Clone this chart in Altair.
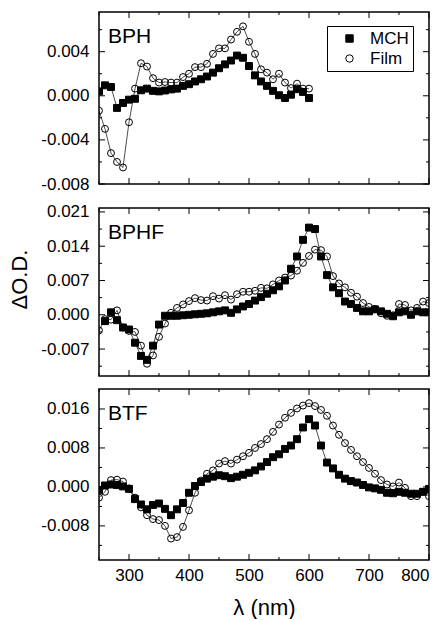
import altair as alt
import pandas as pd

FONT = "Liberation Sans"
W = 330

# ---- data (values in units of 1e-3 ΔO.D.) ----
wl_bph = list(range(250, 610, 10))
bph_mch = [0.4, 0.95, 0.8, -1.1, -0.65, -0.35, -0.27, 0.5, 0.65, 0.45, 0.4, 0.48, 0.58, 0.65,
           0.9, 1.05, 1.3, 1.5, 1.75, 2.1, 2.5, 2.85, 3.2, 3.65, 3.45, 2.7, 1.85, 1.3, 0.9, 0.45,
           0.05, -0.2, 0.1, 0.6, 0.35, -0.2]
bph_film = [-1.35, -3.0, -5.2, -6.0, -6.5, -2.4, 0.65, 2.95, 2.65, 1.6, 1.2, 1.25, 1.2, 1.2,
            1.7, 2.0, 2.6, 2.6, 2.9, 3.8, 4.3, 4.3, 5.1, 5.8, 6.3, 4.9, 3.8, 2.4, 2.1, 1.5,
            2.0, 1.2, 0.7, 1.1, 0.65, 0.65]

wl_full = list(range(250, 810, 10))
wl_bphf_mch = list(range(260, 810, 10))
bphf_mch = [-1.3, 0.5, -1.1, -2.6, -3.0, -5.7, -8.4, -9.2, -6.3, -2.0,
            -0.2, -0.2, -0.2, -0.1, 0.0, 0.1, 0.2, 0.3, 0.5, 0.7,
            0.9, 0.4, 1.1, 1.7, 2.2, 2.9, 3.6, 4.3, 5.0, 5.8,
            7.0, 9.4, 11.9, 15.3, 17.8, 17.5, 11.9, 8.1, 5.6, 4.4,
            2.7, 2.2, 1.4, 0.7, 0.7, 1.1, 0.7, 0.2, -0.3, 0.5,
            0.7, 0.0, 0.7, 0.5, 0.5]
bphf_film = [-3.2, -0.9, -1.0, 0.9, -2.6, -3.3, -3.5, -6.3, -10.0, -8.3,
             -4.5, -1.8, 0.4, 1.4, 2.1, 2.8, 3.4, 3.0, 2.9, 3.8,
             3.3, 4.0, 3.1, 4.2, 4.7, 4.7, 4.9, 5.5, 5.4, 6.2,
             7.0, 7.6, 8.0, 9.0, 10.6, 12.0, 13.3, 13.2, 11.9, 7.9,
             6.4, 5.6, 4.5, 3.7, 2.4, 1.6, 1.2, 0.3, -0.2, -0.1,
             2.2, 2.0, 0.9, 1.4, 2.7, 2.4]

btf_mch = [-0.6, 0.3, 0.5, 0.4, 0.1, -0.4, -2.5, -3.6, -4.6, -3.7,
           -3.4, -4.5, -5.8, -4.6, -3.3, -1.2, 0.2, 1.0, 1.7, 2.1,
           2.4, 2.2, 1.8, 2.1, 2.5, 2.9, 3.4, 4.2, 5.1, 6.1,
           6.7, 7.8, 8.5, 9.8, 12.2, 13.9, 12.6, 8.5, 5.0, 3.8,
           2.5, 1.7, 1.2, 0.9, 0.4, -0.1, -0.3, -0.6, -1.2, -1.3,
           -1.0, -1.2, -1.4, -1.4, -1.0, -0.4]
btf_film = [-2.2, -1.0, 1.4, 1.5, 1.1, -0.3, -2.2, -4.2, -5.8, -6.6,
            -6.8, -8.0, -10.6, -10.3, -8.2, -4.8, -1.2, 1.3, 2.7, 3.4,
            4.8, 5.3, 4.8, 5.6, 6.3, 7.0, 8.0, 8.8, 9.8, 11.3,
            12.8, 14.2, 15.2, 16.1, 16.7, 17.2, 16.6, 15.8, 14.6, 12.6,
            10.7, 9.0, 7.6, 6.3, 5.1, 3.9, 2.7, 1.4, 0.5, 0.1,
            0.9, -0.2, -1.9, -1.9, -1.0, -1.9]

series_names = ["MCH", "Film"]
panel_names = ["BPH", "BPHF", "BTF"]

x_major = [300, 400, 500, 600, 700, 800]
x_minor = [250, 350, 450, 550, 650, 750]

y1_major = [-0.008, -0.004, 0.0, 0.004]
y1_minor = [-0.006, -0.002, 0.002, 0.006]
y2_major = [-0.007, 0.0, 0.007, 0.014, 0.021]
y2_minor = [-0.0105, -0.0035, 0.0035, 0.0105, 0.0175]
y3_major = [-0.008, 0.0, 0.008, 0.016]
y3_minor = [-0.012, -0.004, 0.004, 0.012]


def make_df(wl_m, m, wl_f, f):
    rows = [{"wl": w, "v": v / 1000.0, "series": series_names[0]} for w, v in zip(wl_m, m)]
    rows += [{"wl": w, "v": v / 1000.0, "series": series_names[1]} for w, v in zip(wl_f, f)]
    return pd.DataFrame(rows)


def panel(df, name, ydomain, ymaj, ymin, H, bottom=False, ytitle=False, legend=False, xext=None):
    xscale = alt.Scale(domain=[250, 800], nice=False, zero=False)
    yscale = alt.Scale(domain=ydomain, nice=False, zero=False)
    if bottom:
        xaxis = alt.Axis(values=x_major, ticks=False, domain=False, grid=False,
                         labelPadding=7, title="λ (nm)", titlePadding=14, format="d")
    elif xext is not None:
        xaxis = alt.Axis(values=x_major, ticks=False, domain=False, grid=False, labels=False,
                         title=None, minExtent=xext, maxExtent=xext)
    else:
        xaxis = None
    yaxis_kw = dict(values=ymaj, ticks=False, domain=False, grid=False, labelPadding=10,
                    labelExpr="replace(format(datum.value, '.3f'), '\u2212', '-')")
    if ytitle:
        yaxis = alt.Axis(title="ΔO.D.", titlePadding=9, titleY=71, **yaxis_kw)
    else:
        yaxis = alt.Axis(title=None, **yaxis_kw)

    base = alt.Chart(df)
    x = alt.X("wl:Q", scale=xscale, axis=xaxis)
    y = alt.Y("v:Q", scale=yscale, axis=yaxis)

    lines = base.mark_line(color="black", strokeWidth=0.7, clip=True).encode(
        x=x, y=y, detail="series:N", order="wl:Q")

    if legend:
        leg = alt.Legend(orient="none", legendX=228, legendY=14, title=None,
                         strokeColor="black", fillColor="white", padding=4,
                         symbolOffset=10, labelOffset=12, rowPadding=2,
                         labelFontSize=17, labelFont=FONT, labelColor="black",
                         symbolSize=55, symbolStrokeWidth=1)
    else:
        leg = None
    pts = base.mark_point(size=48, strokeWidth=1, opacity=1,
                          filled=True, clip=True).encode(
        x=x, y=y,
        shape=alt.Shape("series:N", scale=alt.Scale(domain=series_names, range=["square", "circle"]),
                        legend=leg),
        fill=alt.Fill("series:N", scale=alt.Scale(domain=series_names, range=["black", "transparent"]),
                      legend=leg),
        stroke=alt.Stroke("series:N", scale=alt.Scale(domain=series_names, range=["black", "black"]),
                          legend=leg),
        order=alt.Order("ord:Q"),
    ).transform_calculate(ord="datum.series == 'MCH' ? 0 : 1")

    layers = [lines, pts]
    # inward ticks (same axis definitions as the data layers so axes merge cleanly)
    for vals, L in ((x_major, 6), (x_minor, 3)):
        tb = alt.Chart(pd.DataFrame({"wl": vals})).mark_rule(color="black", strokeWidth=1)
        layers.append(tb.encode(x=x, y=alt.value(0), y2=alt.value(L)))
        layers.append(tb.encode(x=x, y=alt.value(H), y2=alt.value(H - L)))
    for vals, L in ((ymaj, 6), (ymin, 3)):
        tb = alt.Chart(pd.DataFrame({"v": vals})).mark_rule(color="black", strokeWidth=1)
        layers.append(tb.encode(y=y, x=alt.value(0), x2=alt.value(L)))
        layers.append(tb.encode(y=y, x=alt.value(W), x2=alt.value(W - L)))

    lab = alt.Chart(pd.DataFrame({"name": [name]})).mark_text(
        align="left", baseline="alphabetic", fontSize=21, font=FONT, color="black"
    ).encode(text="name:N", x=alt.value(9), y=alt.value(31))
    layers.append(lab)

    return alt.layer(*layers).properties(width=W, height=H)


p1 = panel(make_df(wl_bph, bph_mch, wl_bph, bph_film), panel_names[0],
           [-0.008, 0.0076], y1_major, y1_minor, 172, legend=True, xext=2)
p2 = panel(make_df(wl_bphf_mch, bphf_mch, wl_full, bphf_film), panel_names[1],
           [-0.0125, 0.0218], y2_major, y2_minor, 168, ytitle=True)
p3 = panel(make_df(wl_full, btf_mch, wl_full, btf_film), panel_names[2],
           [-0.015, 0.0201], y3_major, y3_minor, 171, bottom=True)

chart = alt.vconcat(p1, p2, p3, spacing=9).resolve_scale(
    shape="independent", fill="independent", stroke="independent")

chart = chart.properties(
    padding={"left": 0, "top": 2, "right": 0, "bottom": 0},
    background="white"
).configure_view(
    stroke="black", strokeWidth=1.5
).configure_axis(
    labelFont=FONT, titleFont=FONT, labelFontSize=17, titleFontSize=22,
    labelColor="black", titleColor="black", titleFontWeight="normal"
)

chart.save("out.html", embed_options={"renderer": "svg", "actions": False})
